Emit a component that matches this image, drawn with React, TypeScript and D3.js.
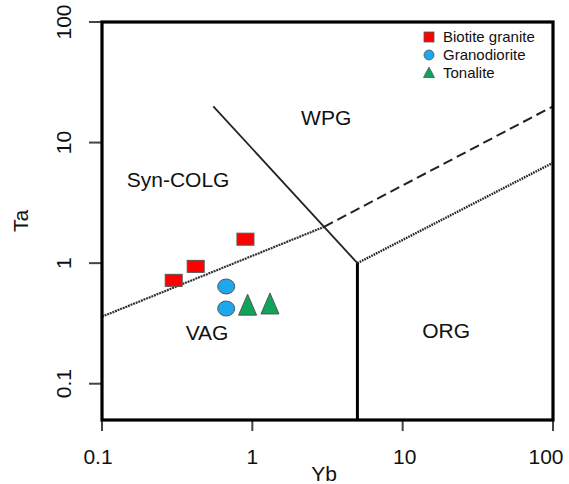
import * as d3 from "d3";

const W = 569;
const H = 484;

// discrimination boundaries (Yb, Ta)
const vagUpper = [[0.1, 0.36], [3, 2]];
const wpgDashed = [[3, 2], [100, 20]];
const diagonal = [[0.55, 20], [5, 1]];
const orgDotted = [[5, 1], [100, 6.8]];
const orgVertical = [[5, 1], [5, 0.05]];

const biotite = [[0.3, 0.72], [0.42, 0.94], [0.9, 1.58]];
const granodiorite = [[0.67, 0.64], [0.67, 0.42]];
const tonalite = [[0.93, 0.44], [1.31, 0.45]];

const xTicks = [0.1, 1, 10, 100];
const yTicks = [0.1, 1, 10, 100];

const fieldLabels = [
  { text: "WPG", x: 3.1, y: 14, anchor: "middle" },
  { text: "Syn-COLG", x: 0.146, y: 4.3, anchor: "start" },
  { text: "VAG", x: 0.36, y: 0.23, anchor: "start" },
  { text: "ORG", x: 13.5, y: 0.24, anchor: "start" },
];

const RED = "#ff0000";
const BLUE = "#1ea7ec";
const GREEN = "#10a35a";
const EDGE = "#555";

function triPath(cx: number, cy: number, w: number, h: number) {
  return `M${cx},${cy - h * 0.6}L${cx + w / 2},${cy + h * 0.45}L${cx - w / 2},${cy + h * 0.45}Z`;
}

export default function App() {
  const left = 102;
  const right = 553;
  const top = 22;
  const bottom = 420;
  const x = d3.scaleLog().domain([0.1, 100]).range([left, right]);
  const y = d3.scaleLog().domain([0.05, 100]).range([bottom, top]);
  const line = d3
    .line<number[]>()
    .x((d) => x(d[0]))
    .y((d) => y(d[1]));

  const font = "Arial, 'Liberation Sans', sans-serif";
  // nudge the outer tick labels inwards like the original
  const xLabelShift = (t: number) => (t === 100 ? -7 : t === 0.1 ? -4 : t === 10 ? 2 : 0);

  return (
    <svg width={W} height={H} style={{ position: "absolute", left: 0, top: 0, background: "#fff" }} fontFamily={font}>
      {/* ticks */}
      {xTicks.map((t) => (
        <g key={"x" + t}>
          <line x1={x(t)} x2={x(t)} y1={bottom} y2={bottom + 11} stroke="#444" strokeWidth={2} />
          <text x={x(t) + xLabelShift(t)} y={464} textAnchor="middle" fontSize={21} fill="#111">
            {t}
          </text>
        </g>
      ))}
      {yTicks.map((t) => (
        <g key={"y" + t}>
          <line x1={left - 13} x2={left} y1={y(t)} y2={y(t)} stroke="#444" strokeWidth={2} />
          <text
            transform={`translate(71,${y(t)}) rotate(-90)`}
            textAnchor="middle"
            fontSize={21}
            fill="#111"
          >
            {t}
          </text>
        </g>
      ))}
      <text x={324} y={481} textAnchor="middle" fontSize={21} fill="#111">
        Yb
      </text>
      <text transform={`translate(28,221) rotate(-90)`} textAnchor="middle" fontSize={21} fill="#111">
        Ta
      </text>

      {/* boundaries */}
      <path d={line(vagUpper) ?? ""} fill="none" stroke="#333" strokeWidth={2.2} strokeDasharray="2,0.8" />
      <path d={line(wpgDashed) ?? ""} fill="none" stroke="#222" strokeWidth={2} strokeDasharray="10,5" />
      <path d={line(diagonal) ?? ""} fill="none" stroke="#222" strokeWidth={1.8} />
      <path d={line(orgDotted) ?? ""} fill="none" stroke="#222" strokeWidth={2.4} strokeDasharray="1.6,1" />
      <path d={line(orgVertical) ?? ""} fill="none" stroke="#000" strokeWidth={3} />

      {/* frame */}
      <rect x={left} y={top} width={right - left} height={bottom - top} fill="none" stroke="#000" strokeWidth={3.2} />

      {fieldLabels.map((l) => (
        <text key={l.text} x={x(l.x)} y={y(l.y)} textAnchor={l.anchor} fontSize={21} fill="#111">
          {l.text}
        </text>
      ))}

      {/* samples */}
      {biotite.map((d, i) => (
        <rect key={"b" + i} x={x(d[0]) - 8.5} y={y(d[1]) - 6} width={17} height={12} fill={RED} stroke={EDGE} strokeWidth={1} />
      ))}
      {granodiorite.map((d, i) => (
        <ellipse key={"g" + i} cx={x(d[0])} cy={y(d[1])} rx={8.5} ry={7.5} fill={BLUE} stroke={EDGE} strokeWidth={1} />
      ))}
      {tonalite.map((d, i) => (
        <path key={"t" + i} d={triPath(x(d[0]), y(d[1]), 18, 20)} fill={GREEN} stroke={EDGE} strokeWidth={1} />
      ))}

      {/* legend */}
      <g fontSize={15} fill="#111">
        <rect x={429 - 5} y={37 - 5} width={10} height={10} fill={RED} stroke={EDGE} strokeWidth={0.8} />
        <text x={443} y={42}>Biotite granite</text>
        <circle cx={429} cy={55} r={5} fill={BLUE} stroke={EDGE} strokeWidth={0.8} />
        <text x={443} y={60}>Granodiorite</text>
        <path d={triPath(429, 73, 11, 10)} fill={GREEN} stroke={EDGE} strokeWidth={0.8} />
        <text x={443} y={78}>Tonalite</text>
      </g>
    </svg>
  );
}
